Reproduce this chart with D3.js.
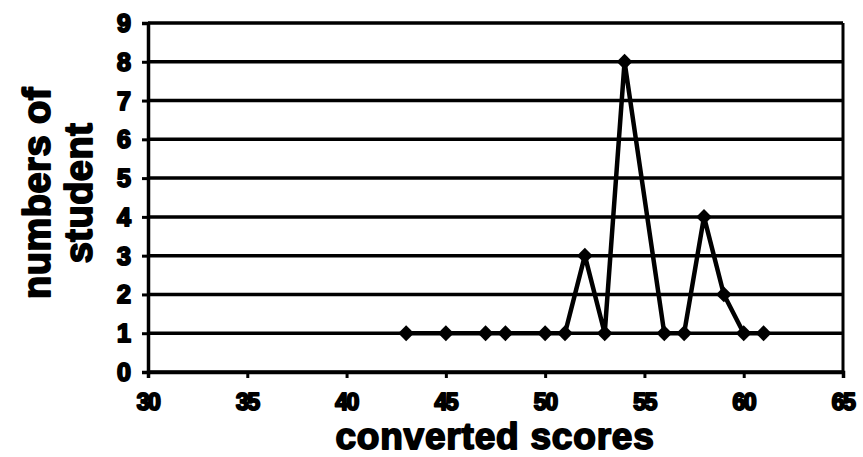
<!DOCTYPE html>
<html lang="en">
<head>
  <meta charset="utf-8">
  <title>converted scores</title>
  <script src="https://d3js.org/d3.v7.min.js"></script>
  <style>
    body { margin: 0; background: #fff; }
    svg { display: block; }
    .lbl { font-family: "Liberation Sans", Arial, sans-serif; font-weight: bold; fill: #000; stroke: #000; stroke-linejoin: round; }
  </style>
</head>
<body>
  <script>
    // data
    var scores = [43, 45, 47, 48, 50, 51, 52, 53, 54, 56, 57, 58, 59, 60, 61];
    var students = [1, 1, 1, 1, 1, 1, 3, 1, 8, 1, 1, 4, 2, 1, 1];
    var xTicks = [30, 35, 40, 45, 50, 55, 60, 65];
    var yTicks = [0, 1, 2, 3, 4, 5, 6, 7, 8, 9];

    var width = 863, height = 457;

    var svg = d3.select("body").append("svg")
      .attr("width", width)
      .attr("height", height);

    var x = d3.scaleLinear().domain([30, 65]).range([148, 843]);
    var y = d3.scaleLinear().domain([0, 9]).range([372, 23]);

    // gridlines
    svg.append("g")
      .selectAll("line")
      .data(yTicks)
      .enter().append("line")
      .attr("x1", x(30)).attr("x2", x(65))
      .attr("y1", function(d) { return y(d); })
      .attr("y2", function(d) { return y(d); })
      .attr("stroke", "#000")
      .attr("stroke-width", 3.5);

    // right border
    svg.append("line")
      .attr("x1", x(65)).attr("x2", x(65))
      .attr("y1", y(9)).attr("y2", y(0))
      .attr("stroke", "#000").attr("stroke-width", 3);

    // y axis (line + ticks), labels drawn separately
    var yAxis = svg.append("g")
      .attr("transform", "translate(" + x(30) + ",0)")
      .call(d3.axisLeft(y).tickValues(yTicks).tickSize(6).tickFormat(""));
    yAxis.select(".domain").attr("stroke-width", 3.5);
    yAxis.selectAll(".tick line").attr("stroke-width", 3);

    svg.append("g")
      .selectAll("text")
      .data(yTicks)
      .enter().append("text")
      .attr("class", "lbl")
      .attr("x", 131)
      .attr("y", function(d) { return y(d); })
      .attr("dy", "0.36em")
      .attr("text-anchor", "end")
      .attr("font-size", 25)
      .attr("stroke-width", 2)
      .text(function(d) { return d; });

    // x axis
    var xAxis = svg.append("g")
      .attr("transform", "translate(0," + y(0) + ")")
      .call(d3.axisBottom(x).tickValues(xTicks).tickSize(6).tickFormat(""));
    xAxis.select(".domain").attr("stroke-width", 3.5);
    xAxis.selectAll(".tick line").attr("stroke-width", 3);

    svg.append("g")
      .selectAll("text")
      .data(xTicks)
      .enter().append("text")
      .attr("class", "lbl")
      .attr("x", function(d) { return x(d); })
      .attr("y", 410)
      .attr("text-anchor", "middle")
      .attr("font-size", 23)
      .attr("stroke-width", 2)
      .attr("letter-spacing", -1.5)
      .text(function(d) { return d; });

    // series line
    var pts = scores.map(function(s, i) { return [s, students[i]]; });
    svg.append("path")
      .datum(pts)
      .attr("fill", "none")
      .attr("stroke", "#000")
      .attr("stroke-width", 4.5)
      .attr("stroke-linejoin", "round")
      .attr("d", d3.line()
        .x(function(d) { return x(d[0]); })
        .y(function(d) { return y(d[1]); }));

    // diamond markers
    svg.append("g")
      .selectAll("path")
      .data(pts)
      .enter().append("path")
      .attr("d", d3.symbol().type(d3.symbolDiamond2).size(160))
      .attr("transform", function(d) { return "translate(" + x(d[0]) + "," + y(d[1]) + ")"; })
      .attr("fill", "#000");

    // axis titles
    svg.append("text")
      .attr("class", "lbl")
      .attr("x", 495).attr("y", 449)
      .attr("text-anchor", "middle")
      .attr("font-size", 37)
      .attr("stroke-width", 1.8)
      .attr("letter-spacing", 0.8)
      .text("converted scores");

    var yt = svg.append("text")
      .attr("class", "lbl")
      .attr("transform", "translate(58,193) rotate(-90)")
      .attr("text-anchor", "middle")
      .attr("font-size", 38)
      .attr("stroke-width", 1.8)
      .attr("letter-spacing", 0.5);
    yt.append("tspan").attr("x", 0).attr("y", -8).text("numbers of");
    yt.append("tspan").attr("x", 0).attr("y", 34).text("student");
  </script>
</body>
</html>
